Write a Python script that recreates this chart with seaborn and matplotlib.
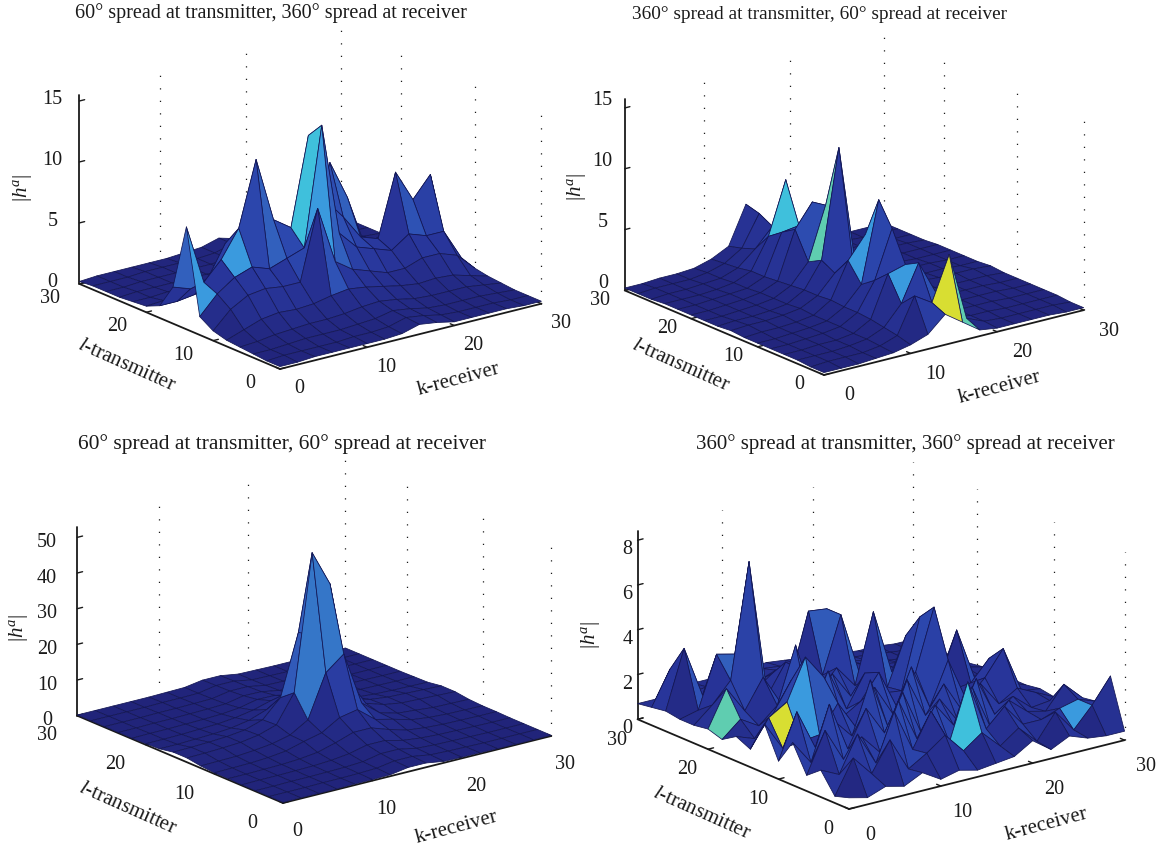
import numpy as np
import seaborn as sns
import matplotlib
matplotlib.use("Agg")
import matplotlib.pyplot as plt
from matplotlib.text import Text
from matplotlib.transforms import Affine2D
from mpl_toolkits.mplot3d import proj3d

sns.set_theme(style="white")
plt.rcParams['font.family'] = ['Liberation Serif', 'DejaVu Serif']
plt.rcParams['mathtext.fontset'] = 'custom'
plt.rcParams['mathtext.rm'] = 'Liberation Serif'
plt.rcParams['mathtext.it'] = 'Liberation Serif:italic'

K_VALUES = list(range(0, 31, 2))
L_VALUES = list(range(0, 31, 2))
XY_TICKS = [0, 10, 20, 30]

TITLES = ["60° spread at transmitter, 360° spread at receiver",
          "360° spread at transmitter, 60° spread at receiver",
          "60° spread at transmitter, 60° spread at receiver",
          "360° spread at transmitter, 360° spread at receiver"]
Z_TICKS = [[0, 5, 10, 15], [0, 5, 10, 15], [0, 10, 20, 30, 40, 50], [0, 2, 4, 6, 8]]
Z_TOPS = [15.5, 15.7, 53, 8.4]

# rows: l = 0, 2, ... 30; columns: k = 0, 2, ... 30
TX60_RX360 = [
 [.2,.2,.3,.3,.3,.3,.3,.4,.8,.6,.3,.3,.3,.3,.2,.2],
 [.2,.3,.3,.3,.3,.4,.4,.5,.9,.7,.4,.3,.3,.3,.2,.2],
 [.3,.3,.4,.5,.5,.5,.6,.7,1.0,.8,.5,.4,.4,.4,.3,.2],
 [.4,.5,.7,.8,.9,.9,1.0,1.2,1.3,1.1,.8,.7,.7,.7,.5,.3],
 [.5,1.0,1.5,1.7,1.6,1.7,2.0,2.2,2.0,1.7,1.4,1.2,1.3,1.2,.8,.4],
 [.8,2.2,3.0,3.2,3.0,3.0,8.7,4.0,3.0,2.5,2.0,2.0,2.5,2.5,2.0,.6],
 [1.5,3.0,4.0,4.5,4.0,4.5,5.0,14.7,5.5,4.0,3.5,3.0,4.0,3.5,3.5,1.0],
 [8.4,3.5,5.0,7.2,12.5,7.2,6.2,13.4,7.7,6.0,4.0,3.5,8.6,6.0,7.7,1.0],
 [3.0,2.5,3.0,5.5,3.0,3.0,3.0,4.0,4.0,10.0,6.8,2.5,3.0,2.5,2.5,.6],
 [1.0,1.0,1.2,1.5,1.5,1.2,1.2,1.5,1.6,2.0,2.0,1.0,1.0,.9,.8,.4],
 [.5,.6,.7,.7,.7,.7,.7,.8,.9,.8,.7,.6,.5,.5,.4,.3],
 [.4,.4,.5,.5,.5,.5,.5,.6,.8,.6,.5,.4,.4,.4,.3,.3],
 [.3,.4,.4,.4,.4,.4,.4,.5,.8,.6,.4,.4,.3,.3,.3,.2],
 [.3,.3,.4,.4,.4,.4,.4,.5,.8,.5,.4,.3,.3,.3,.2,.2],
 [.3,.3,.3,.4,.4,.4,.4,.5,.9,.5,.4,.3,.3,.3,.2,.2],
 [.2,.3,.3,.3,.3,.3,.4,.5,.9,.5,.3,.3,.3,.2,.2,.2],
]
TX360_RX60 = [
 [.2,.2,.2,.3,.4,.7,1.2,2.5,1.5,.5,.3,.3,.3,.3,.2,.2],
 [.2,.3,.3,.3,.5,1.0,3.9,3.0,6.6,1.0,.4,.3,.3,.3,.3,.2],
 [.3,.3,.3,.4,.6,1.2,2.8,5.8,3.0,.7,.4,.4,.3,.3,.3,.3],
 [.3,.3,.4,.4,.6,1.4,4.8,5.2,2.5,.6,.4,.4,.4,.3,.3,.3],
 [.3,.3,.4,.5,.7,1.5,3.8,7.7,2.0,.6,.5,.4,.4,.4,.3,.3],
 [.3,.3,.4,.5,.7,1.5,3.0,9.6,2.0,.6,.5,.4,.4,.4,.3,.3],
 [.3,.4,.4,.5,.7,1.6,4.5,6.3,1.8,.6,.5,.5,.4,.4,.4,.3],
 [.4,.5,.5,.6,.8,1.5,3.0,4.0,1.5,.7,.6,.6,.5,.5,.5,.4],
 [.3,.4,.4,.5,.7,1.5,3.6,12.5,2.0,.6,.5,.5,.4,.4,.3,.3],
 [.3,.3,.4,.5,.7,1.4,3.0,7.3,2.0,.6,.5,.4,.4,.4,.3,.3],
 [.3,.3,.4,.5,.7,1.3,5.2,7.1,1.8,.6,.4,.4,.4,.3,.3,.3],
 [.3,.3,.4,.5,.6,1.2,4.5,4.7,1.5,.5,.4,.4,.3,.3,.3,.3],
 [.3,.3,.3,.4,.6,1.2,3.7,8.0,1.5,.5,.4,.4,.3,.3,.3,.2],
 [.2,.3,.3,.4,.5,1.0,2.2,3.7,1.2,.5,.4,.3,.3,.3,.2,.2],
 [.2,.3,.3,.3,.5,.9,1.8,4.3,1.0,.4,.3,.3,.3,.2,.2,.2],
 [.2,.2,.3,.3,.4,.8,1.5,4.6,1.0,.4,.3,.3,.2,.2,.2,.2],
]
TX60_RX60 = [
 [.2,.2,.2,.2,.3,.3,.4,1.2,1.2,.4,.3,.3,.2,.2,.2,.2],
 [.2,.2,.2,.3,.3,.4,.6,1.4,1.4,.6,.4,.3,.2,.2,.2,.2],
 [.2,.2,.3,.3,.4,.5,.8,1.8,1.8,.8,.5,.4,.3,.2,.2,.2],
 [.2,.3,.3,.4,.5,.8,1.4,2.6,2.6,1.4,.8,.5,.4,.3,.2,.2],
 [.3,.3,.4,.5,.8,1.4,2.8,4.5,4.5,2.8,1.4,.8,.5,.4,.3,.3],
 [.3,.4,.5,.8,1.4,2.8,4.0,7.0,8.0,4.0,2.8,1.4,.8,.5,.4,.3],
 [.6,.7,.8,1.2,1.8,3.0,6.0,18.0,22.0,7.0,3.0,1.6,1.2,.7,.6,.5],
 [1.2,1.3,1.5,1.8,2.6,4.2,12.0,50.0,40.0,12.0,4.0,2.4,1.6,1.4,1.2,1.0],
 [1.2,1.3,1.5,1.8,2.4,4.0,9.0,26.0,24.0,9.0,3.6,2.2,1.6,1.4,1.2,1.0],
 [.5,.5,.7,.9,1.3,2.2,4.0,7.0,7.0,3.6,2.0,1.2,.8,.6,.5,.4],
 [.3,.3,.4,.6,.8,1.3,2.2,3.6,3.4,2.0,1.2,.8,.5,.4,.3,.3],
 [.2,.3,.3,.4,.5,.7,1.2,2.3,2.2,1.1,.6,.4,.3,.3,.2,.2],
 [.2,.2,.3,.3,.4,.5,.7,1.7,1.6,.7,.4,.3,.3,.2,.2,.2],
 [.2,.2,.2,.3,.3,.4,.5,1.4,1.4,.5,.4,.3,.2,.2,.2,.2],
 [.2,.2,.2,.2,.3,.3,.4,1.3,1.3,.4,.3,.2,.2,.2,.2,.2],
 [.2,.2,.2,.2,.2,.3,.4,1.2,1.2,.4,.3,.2,.2,.2,.2,.2],
]
TX360_RX360 = [
 [.5,.3,.6,.4,.8,.3,.5,.3,.4,.5,1.0,.4,.8,.5,.4,.4],
 [.3,1.8,.9,2.2,.7,1.2,1.8,.9,1.5,.7,1.3,.5,1.6,.6,1.5,2.6],
 [1.2,.8,2.4,.9,3.0,1.1,2.6,1.0,3.5,1.2,2.0,1.0,1.0,1.3,1.5,1.2],
 [.7,2.5,1.0,1.8,.9,3.0,1.1,2.4,1.3,2.8,.8,1.8,1.1,.9,1.9,1.1],
 [1.9,.8,3.2,1.0,2.6,1.3,2.9,.9,2.2,1.0,2.7,.9,1.5,.8,.9,.7],
 [.8,2.8,1.0,2.0,1.1,3.4,1.0,3.0,1.2,2.4,1.0,2.0,.9,1.4,1.0,.6],
 [2.2,.9,1.0,1.1,2.3,1.0,2.6,1.2,3.1,1.1,3.0,1.0,1.8,2.9,.8,.7],
 [.8,2.0,2.5,4.3,3.2,1.2,1.7,2.8,1.0,2.4,5.1,1.2,1.3,2.2,.9,.6],
 [1.1,.8,1.7,3.0,1.2,3.0,1.1,2.5,1.4,1.3,4.4,1.2,3.4,1.0,.8,.6],
 [.7,1.4,.9,1.6,4.1,1.3,2.4,1.2,1.8,1.2,3.3,1.0,1.4,.9,.7,.6],
 [.9,2.5,1.3,2.6,1.2,2.5,1.3,2.2,1.2,4.3,1.4,1.6,1.0,.8,.8,.6],
 [.8,1.5,2.4,7.5,1.3,2.6,1.4,1.6,4.1,1.3,1.5,1.1,1.0,.8,.7,.5],
 [.8,1.0,3.3,3.1,1.2,1.8,1.3,4.2,4.1,1.5,1.2,1.0,.9,.7,.6,.5],
 [.9,3.5,1.2,1.5,1.6,1.2,1.5,1.3,1.4,1.2,1.1,.9,.7,.6,.6,.5],
 [.8,2.3,1.0,1.1,1.2,1.1,1.3,1.2,1.1,1.0,.9,.8,.7,.6,.5,.5],
 [.7,.7,.9,1.0,1.0,.9,1.0,1.1,1.0,.9,.8,.7,.6,.6,.5,.5],
]
SURFACES = [TX60_RX360, TX360_RX60, TX60_RX60, TX360_RX360]

# facets with a bright colour: (l index, k index, colour name)
ACCENTS = [
 [(6,6,'cyan'),(5,6,'sky'),(6,0,'sky'),(6,2,'sky')],
 [(11,6,'cyan'),(8,6,'teal'),(0,7,'yellow'),(0,8,'teal'),(5,6,'sky'),(2,6,'sky')],
 [(6,7,'mid'),(6,6,'mid')],
 [(6,1,'yellow'),(6,2,'sky'),(9,0,'teal'),(1,7,'cyan'),(1,13,'sky')],
]
ACCENT_COLORS = {'cyan': '#3fc0dc', 'sky': '#3a9ade', 'teal': '#5fcdb0',
                 'yellow': '#d8de32', 'mid': '#3576c8'}

# pixel layout of each panel
FRONT = [(280, 369), (824, 375), (283, 803), (849, 809)]
WIDTH = [462, 459, 474, 487]
ZPX = [189, 191, 189, 188]
TITLE_XY = [(271, 12), (820, 13), (282, 443), (905, 443)]
TITLE_SIZE = [14.5, 13.9, 15.5, 15.0]
LT_XY = [(127, 365), (681, 365), (128, 808), (702, 813)]
KR_XY = [(458, 380), (999, 388), (456, 828), (1046, 825)]
H_XY = [(22, 188), (577, 187), (19, 628), (591, 635)]
X_LABEL_SHIFT = [(5, -9), (11, -8), (0, 0), (7, -2)]
Y_LABEL_SHIFT = [(-11, -13), (-6, -18), (-12, -7), (-2, -6)]
Z_LABEL_SHIFT = [(8, -9), (13, -15), (5, -3), (25, 1.5)]
GRID_K = [9.2, 19.1, 30]
GRID_L = [0, 10, 21]

ELEV, AZIM = 19, -127.5
W, H = 1162, 850
fig = plt.figure(figsize=(W / 100, H / 100), dpi=100, facecolor='white')
ramp = sns.blend_palette(['#21247a', '#28359a', '#2c48ae', '#3260bd'], as_cmap=True)
EDGE = (0.08, 0.09, 0.33)


def project(ax, x, y, z):
    px, py, _ = proj3d.proj_transform(x, y, z, ax.get_proj())
    return ax.transData.transform((px, py))


def shift_tick_labels(axis, shift):
    """mplot3d resets label transforms while drawing, so keep a pixel offset on top."""
    off = Affine2D().translate(shift[0], -shift[1])
    for tick in axis.get_major_ticks():
        lab = tick.label1
        lab.set_transform = (lambda tr, lab=lab, off=off: Text.set_transform(lab, tr + off))


for n in range(4):
    Z = np.array(SURFACES[n], dtype=float)
    ztop = Z_TOPS[n]
    K, L = np.meshgrid(K_VALUES, L_VALUES)
    ax = fig.add_axes([0.1, 0.1, 400 / W, 400 / H], projection='3d', proj_type='ortho',
                      computed_zorder=False)
    ax.patch.set_alpha(0)
    ax.set_xlim(0, 30)
    ax.set_ylim(0, 30)
    ax.set_zlim(0, ztop)
    ax.view_init(elev=ELEV, azim=AZIM)
    side = WIDTH[n] / (np.cos(np.radians(37.5)) + np.sin(np.radians(37.5)))
    ax.set_box_aspect((1, 1, ZPX[n] / np.cos(np.radians(ELEV)) / side))

    # place the box on the target pixels
    ax.apply_aspect()
    w0 = project(ax, 30, 0, 0)[0] - project(ax, 0, 30, 0)[0]
    S = 400 * WIDTH[n] / w0
    ax.set_position([0.1, 0.1, S / W, S / H])
    ax.apply_aspect()
    f = project(ax, 0, 0, 0)
    dx = FRONT[n][0] - f[0]
    dy = (H - FRONT[n][1]) - f[1]
    ax.set_position([0.1 + dx / W, 0.1 + dy / H, S / W, S / H])
    ax.apply_aspect()

    # vertical dotted grid lines on the two back walls
    for k in GRID_K:
        ax.plot([k, k], [30, 30], [0, ztop], ls=(0, (1, 9)), color='k', lw=0.9, zorder=1)
    for l in GRID_L:
        ax.plot([30, 30], [l, l], [0, ztop], ls=(0, (1, 9)), color='k', lw=0.9, zorder=1)

    # facet colours
    zm = Z.max()
    cell = (Z[:-1, :-1] + Z[1:, :-1] + Z[:-1, 1:] + Z[1:, 1:]) / 4
    rise = np.abs(Z[:-1, 1:] - Z[:-1, :-1]) + np.abs(Z[1:, :-1] - Z[:-1, :-1])
    fall = (Z[:-1, :-1] + Z[1:, :-1] - Z[:-1, 1:] - Z[1:, 1:]) / 2
    t = 0.45 * cell / (0.35 * zm) + 0.4 * rise / (0.6 * zm) + 0.25 * np.clip(fall / (0.3 * zm), -1, 1)
    colors = ramp(np.clip(t, 0, 1))
    for i, j, name in ACCENTS[n]:
        colors[i, j] = matplotlib.colors.to_rgba(ACCENT_COLORS[name])

    ax.plot_surface(K, L, Z, rstride=1, cstride=1, facecolors=colors, shade=False,
                    edgecolor=EDGE, linewidth=0.55, antialiased=True, zorder=2)

    # axes look
    for axis in (ax.xaxis, ax.yaxis, ax.zaxis):
        axis.set_pane_color((1, 1, 1, 0))
        axis.pane.set_edgecolor((1, 1, 1, 0))
        axis.line.set_color('k')
        axis.line.set_linewidth(1.3)
        axis._axinfo['tick']['inward_factor'] = 0.0
        axis._axinfo['tick']['outward_factor'] = 0.25
        axis._axinfo['tick']['linewidth'] = {True: 1.0, False: 1.0}
    ax.grid(False)
    ax.set_xticks(XY_TICKS)
    ax.set_yticks(XY_TICKS)
    ax.set_zticks(Z_TICKS[n])
    ax.tick_params(axis='x', labelsize=14.5, pad=5, colors='k')
    ax.tick_params(axis='y', labelsize=14.5, pad=5, colors='k')
    ax.tick_params(axis='z', labelsize=14.5, pad=6, colors='k')
    shift_tick_labels(ax.xaxis, X_LABEL_SHIFT[n])
    shift_tick_labels(ax.yaxis, Y_LABEL_SHIFT[n])
    shift_tick_labels(ax.zaxis, Z_LABEL_SHIFT[n])

    # text
    ax.set_title(TITLES[n], fontsize=TITLE_SIZE[n], color='k', y=1.0)
    tx, ty = ax.transAxes.inverted().transform((TITLE_XY[n][0], H - TITLE_XY[n][1] - 9.5))
    ax.title.set_position((tx, ty))
    ax.title.set_va('center')
    fig.text(LT_XY[n][0] / W, 1 - LT_XY[n][1] / H, r'$\mathit{l}$-transmitter', fontsize=15,
             rotation=-24, ha='center', va='center', rotation_mode='anchor', color='k')
    fig.text(KR_XY[n][0] / W, 1 - KR_XY[n][1] / H, r'k-receiver', fontsize=15,
             rotation=15, ha='center', va='center', rotation_mode='anchor', color='k')
    fig.text(H_XY[n][0] / W, 1 - H_XY[n][1] / H, r'$|h^{a}|$', fontsize=15,
             rotation=90, ha='center', va='center', color='k')

fig.savefig('out.png', dpi=100, facecolor='white')
